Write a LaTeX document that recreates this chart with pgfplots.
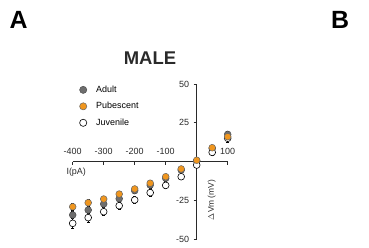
\documentclass[border=0pt]{standalone}
\usepackage{pgfplots}
\pgfplotsset{compat=1.18}
\usepackage{fontspec}
\setmainfont{Liberation Sans}
\definecolor{adultgray}{HTML}{6E6E6E}
\definecolor{puborange}{HTML}{F0961E}
\definecolor{axisgray}{HTML}{2A2A2A}
\begin{document}
\begin{tikzpicture}[x=1bp,y=1bp]
\useasboundingbox (0,0) rectangle (369,248);
\node[font=\fontsize{25}{25}\selectfont\bfseries] at (18.5,228) {A};
\node[font=\fontsize{25}{25}\selectfont\bfseries] at (340,228) {B};
\node[font=\fontsize{18.5}{18.5}\selectfont\bfseries, text=axisgray] at (150,190.3) {MALE};
\begin{axis}[
  at={(72.7bp,9bp)}, anchor=south west,
  x=0.31bp, y=1.55bp,
  xmin=-400, xmax=100, ymin=-50, ymax=50,
  enlargelimits=false,
  axis lines=middle,
  axis line style={-, axisgray, line width=1.1pt},
  tick align=outside,
  major tick length=3bp,
  tick style={axisgray, line width=1pt},
  xtick={-400,-300,-200,-100,100},
  xticklabels={-400,-300,-200,-100,100},
  ytick={-50,-25,25,50},
  yticklabels={-50,-25,25,50},
  xticklabel style={anchor=south, yshift=6bp, font=\fontsize{9}{9}\selectfont, text=axisgray},
  yticklabel style={font=\fontsize{9}{9}\selectfont, text=axisgray, xshift=-1bp},
  clip=false,
  legend style={draw=none, fill=none, at={(axis cs:-388,51.5)}, anchor=north west,
     font=\fontsize{9}{9}\selectfont, row sep=4.5bp, cells={anchor=west}},
  legend image code/.code={\path[draw=none,fill=none] (-3.6bp,-0.1bp) rectangle (11bp,0.1bp); \draw[#1] plot coordinates {(0bp,0bp)};},
  error bars/y dir=both, error bars/y explicit,
  error bars/error bar style={black, line width=0.8pt},
  error bars/error mark options={black, line width=0.8pt, mark size=1.5bp, rotate=90},
]
\addlegendimage{only marks, mark=*, mark size=3.6bp, mark options={fill=adultgray, draw=black!70, line width=0.5pt}}
\addlegendentry{Adult}
\addlegendimage{only marks, mark=*, mark size=3.6bp, mark options={fill=puborange, draw=black!60, line width=0.5pt}}
\addlegendentry{Pubescent}
\addlegendimage{only marks, mark=*, mark size=3.6bp, mark options={fill=white, draw=black, line width=0.6pt}}
\addlegendentry{Juvenile}
\addplot[forget plot, only marks, mark=*, mark size=3.4bp, mark options={fill=adultgray, draw=black!70, line width=0.5pt}]
  table[x=x, y=y, y error=e] {
x y e
-400 -34.5 2.5
-350 -31.3 2.5
-300 -27.4 2.3
-250 -24.0 2.2
-200 -18.8 2.0
-150 -15.2 2.0
-100 -10.8 1.8
-50 -5.5 1.5
0 0.3 1.0
50 8.4 1.8
100 17.5 2.0
};
\addplot[forget plot, only marks, mark=*, mark size=3.4bp, mark options={fill=white, draw=black, line width=0.6pt}]
  table[x=x, y=y, y error=e] {
x y e
-400 -39.9 3.0
-350 -36.2 2.8
-300 -32.4 2.6
-250 -28.5 2.5
-200 -24.8 2.4
-150 -20.1 2.2
-100 -15.4 2.0
-50 -9.8 1.8
0 -2.3 1.2
50 5.9 1.8
100 15.0 2.5
};
\addplot[forget plot, only marks, mark=*, mark size=3.4bp, mark options={fill=puborange, draw=black!60, line width=0.5pt}]
  table[x=x, y=y, y error=e] {
x y e
-400 -29.2 2.2
-350 -26.6 2.2
-300 -24.2 2.0
-250 -21.0 2.0
-200 -17.7 1.8
-150 -14.0 1.8
-100 -9.8 1.6
-50 -4.8 1.4
0 0.8 1.0
50 8.9 1.6
100 16.0 1.8
};
\end{axis}
\node[font=\fontsize{9}{9}\selectfont, text=axisgray, anchor=west] at (63,76.3) {I(pA)};
\node[font=\fontsize{8.4}{9}\selectfont, text=axisgray, rotate=90] at (211.7,48) {$\Delta$Vm (mV)};
\end{tikzpicture}
\end{document}
